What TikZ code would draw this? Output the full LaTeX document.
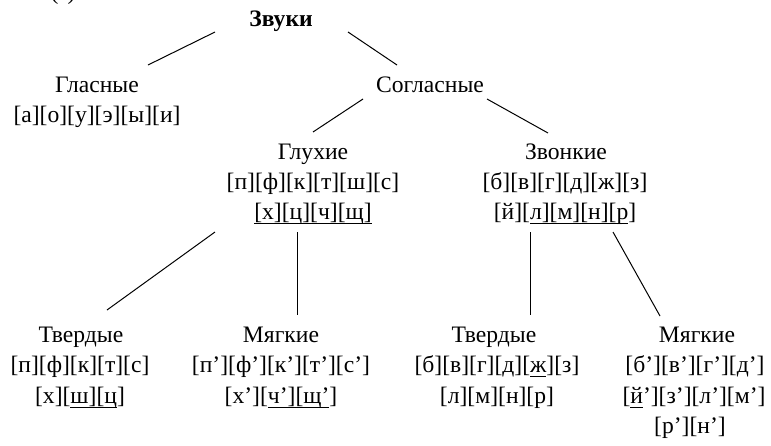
\documentclass[tikz,border=0pt]{standalone}
\usepackage{fontspec}
\setmainfont{Liberation Serif}
\usetikzlibrary{calc}
\newcommand\myul[1]{\sbox0{#1}\rlap{\rule[-4.6pt]{\wd0}{1pt}}\usebox0}
\begin{document}
\begin{tikzpicture}[x=1pt,y=-1pt,
  txt/.style={anchor=base,inner sep=0pt,font=\fontsize{23.6}{28}\selectfont},
  conn/.style={line width=1pt}]
\useasboundingbox (0,0) rectangle (771,445);
% partly visible line of the page above
\node[txt] (prev) at (66,-1) {(з).};
% top
\node[txt,font=\fontsize{23.6}{28}\selectfont\bfseries] (zvuki) at (281,26) {Звуки};
\node[txt] (glas) at (97,92.5) {Гласные};
\node[txt] (glas2) at (97,122) {[а][о][у][э][ы][и]};
\node[txt] (sogl) at (430,92.5) {Согласные};
% middle
\node[txt] (gluh) at (313,159) {Глухие};
\node[txt] (gluh2) at (313,189) {[п][ф][к][т][ш][с]};
\node[txt] (gluh3) at (313,219) {\myul{[х][ц][ч][щ]}};
\node[txt] (zvon) at (566,159) {Звонкие};
\node[txt] (zvon2) at (565,189) {[б][в][г][д][ж][з]};
\node[txt] (zvon3) at (565,219) {[й][\myul{л][м][н][р}]};
% bottom
\node[txt] (tv1) at (81,342) {Твердые};
\node[txt] (tv1b) at (80,372.5) {[п][ф][к][т][с]};
\node[txt] (tv1c) at (80,403) {[х][\myul{ш][ц}]};
\node[txt] (mg1) at (281,342) {Мягкие};
\node[txt] (mg1b) at (281,372.5) {[п’][ф’][к’][т’][с’]};
\node[txt] (mg1c) at (281,403) {[х’][\myul{ч’][щ’}]};
\node[txt] (tv2) at (494,342) {Твердые};
\node[txt] (tv2b) at (497,372.5) {[б][в][г][д][\myul{ж}][з]};
\node[txt] (tv2c) at (497,403) {[л][м][н][р]};
\node[txt] (mg2) at (697,342) {Мягкие};
\node[txt] (mg2b) at (695,372.5) {[б’][в’][г’][д’]};
\node[txt] (mg2c) at (694,403) {[\myul{й}’][з’][л’][м’]};
\node[txt] (mg2d) at (690,433.5) {[р’][н’]};
% connectors
\draw[conn] ($(zvuki.base)+(-66,6)$) -- ($(glas.base)+(51,-27.5)$);
\draw[conn] ($(zvuki.base)+(67,6)$) -- ($(sogl.base)+(-33,-27.5)$);
\draw[conn] ($(sogl.base)+(-67,6.5)$) -- ($(gluh.base)+(0,-27)$);
\draw[conn] ($(sogl.base)+(57,6.5)$) -- ($(zvon.base)+(-18,-26)$);
\draw[conn] ($(gluh3.base)+(-98,13)$) -- ($(tv1.base)+(26,-32)$);
\draw[conn] ($(gluh3.base)+(-16,13)$) -- ($(mg1.base)+(16,-27)$);
\draw[conn] ($(zvon3.base)+(-35,13)$) -- ($(tv2.base)+(36,-27)$);
\draw[conn] ($(zvon3.base)+(48,13)$) -- ($(mg2.base)+(-37,-26)$);
\end{tikzpicture}
\end{document}
